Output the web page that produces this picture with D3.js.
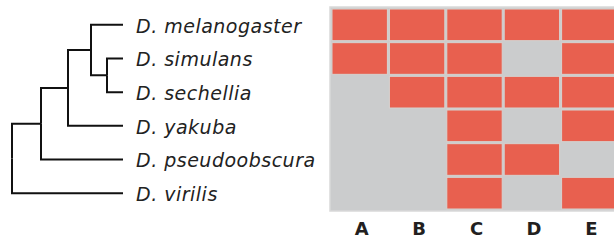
<!DOCTYPE html>
<html>
<head>
<meta charset="utf-8">
<script src="https://cdn.jsdelivr.net/npm/d3@7"></script>
<style>
  body { margin: 0; background: #fff; }
  svg { display: block; }
</style>
</head>
<body>
<svg id="chart" width="614" height="240"></svg>
<script>
// species in row order, top to bottom
var species = ['D. melanogaster', 'D. simulans', 'D. sechellia', 'D. yakuba', 'D. pseudoobscura', 'D. virilis'];
var columns = ['A', 'B', 'C', 'D', 'E'];

// presence (1) / absence (0) per species, one entry per column
var presence = [
  [1, 1, 1, 1, 1],
  [1, 1, 1, 0, 1],
  [0, 1, 1, 1, 1],
  [0, 0, 1, 0, 1],
  [0, 0, 1, 1, 0],
  [0, 0, 1, 0, 1]
];

// tree: node heights (distance from the tips)
var tree = {
  height: 111, children: [
    { height: 82, children: [
      { height: 55, children: [
        { height: 32, children: [
          { name: 'D. melanogaster', height: 0 },
          { height: 16, children: [
            { name: 'D. simulans', height: 0 },
            { name: 'D. sechellia', height: 0 }
          ]}
        ]},
        { name: 'D. yakuba', height: 0 }
      ]},
      { name: 'D. pseudoobscura', height: 0 }
    ]},
    { name: 'D. virilis', height: 0 }
  ]
};

var svg = d3.select('#chart');

var red = '#e8604f', grey = '#cbcccd';

var y = d3.scaleBand().domain(species).range([8, 210]);
var x = d3.scaleBand().domain(columns).range([331, 618]);
var tx = d3.scaleLinear().domain([111, 0]).range([12, 123]);

// ---- heatmap
var grid = svg.append('g');
grid.append('rect')
  .attr('x', x.range()[0] - 1).attr('y', y.range()[0] - 1)
  .attr('width', x.range()[1] - x.range()[0] + 2)
  .attr('height', y.range()[1] - y.range()[0] + 2)
  .attr('fill', grey)
  .attr('stroke', '#d9d9d9')
  .attr('stroke-width', 1.5);

var cells = [];
presence.forEach(function(row, i) {
  row.forEach(function(v, j) {
    cells.push({ sp: species[i], col: columns[j], v: v });
  });
});

grid.selectAll('rect.cell')
  .data(cells.filter(function(d) { return d.v; }))
  .enter().append('rect')
  .attr('class', 'cell')
  .attr('x', function(d) { return x(d.col) + 1; })
  .attr('y', function(d) { return y(d.sp) + 1; })
  .attr('width', x.bandwidth() - 2)
  .attr('height', y.bandwidth() - 2)
  .attr('fill', red)
  .attr('stroke', '#d6d2d0')
  .attr('stroke-width', 1);

svg.append('g').selectAll('text')
  .data(columns)
  .enter().append('text')
  .attr('x', function(d) { return x(d) + x.bandwidth() / 2 + 2; })
  .attr('y', 235)
  .attr('text-anchor', 'middle')
  .attr('font-family', 'DejaVu Sans')
  .attr('font-weight', 'bold')
  .attr('font-size', 18)
  .attr('fill', '#231f20')
  .text(function(d) { return d; });

// ---- tree
var root = d3.hierarchy(tree);
root.eachAfter(function(n) {
  n.px = tx(n.data.height);
  if (n.children) {
    n.py = (n.children[0].py + n.children[n.children.length - 1].py) / 2;
  } else {
    n.py = y(n.data.name) + y.bandwidth() / 2;
  }
});

svg.append('g').selectAll('path')
  .data(root.links())
  .enter().append('path')
  .attr('d', function(l) {
    return 'M' + l.source.px + ',' + l.source.py +
      'V' + l.target.py + 'H' + l.target.px;
  })
  .attr('fill', 'none')
  .attr('stroke', '#111')
  .attr('stroke-width', 2);

svg.append('g').selectAll('text')
  .data(root.leaves())
  .enter().append('text')
  .attr('x', 136)
  .attr('y', function(d) { return d.py; })
  .attr('dy', '0.42em')
  .attr('font-family', 'DejaVu Sans')
  .attr('font-style', 'italic')
  .attr('font-size', 19)
  .attr('letter-spacing', 0.5)
  .attr('fill', '#222')
  .text(function(d) { return d.data.name; });
</script>
</body>
</html>
